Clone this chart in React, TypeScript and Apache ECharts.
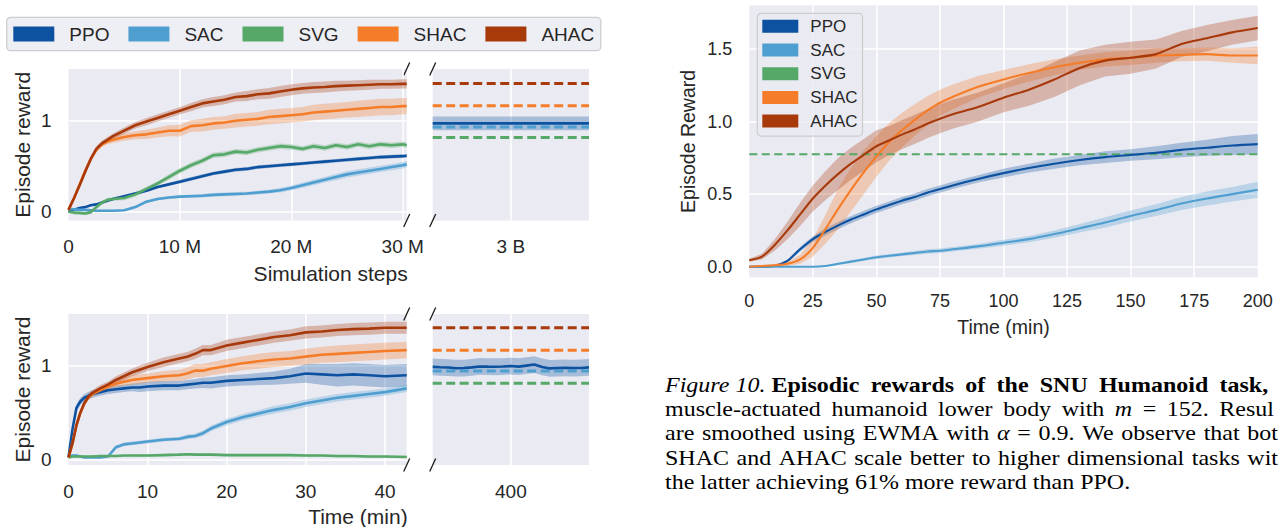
import React, { useEffect, useRef } from "react";
import * as echarts from "echarts";

const W = 1279;
const H = 527;
const SANS = "'Liberation Sans', Arial, sans-serif";
const SERIF = "'Liberation Serif', 'Times New Roman', serif";
const INK = "#262626";
const PANEL = "#eaeaf2";

const METHODS = ["PPO", "SAC", "SVG", "SHAC", "AHAC"];
const COLORS: Record<string, string> = {
  PPO: "#0d52a0",
  SAC: "#4f9ed0",
  SVG: "#55a868",
  SHAC: "#f57c28",
  AHAC: "#a8390a",
};

// ---------- Panel A: reward vs simulation steps (millions) ----------
const STEPS_M = [0, 0.5, 1, 1.5, 2, 2.5, 3, 3.5, 4, 5, 6, 7, 8, 9, 10, 11, 12, 13, 14, 15, 16, 17, 18, 19, 20, 21, 22, 23, 24, 25, 26, 27, 28, 29, 30, 30.36];
const PPO_STEPS = [0.0, 0.02, 0.04, 0.05, 0.07, 0.08, 0.10, 0.12, 0.14, 0.17, 0.20, 0.23, 0.27, 0.30, 0.33, 0.36, 0.39, 0.42, 0.44, 0.46, 0.47, 0.49, 0.50, 0.51, 0.52, 0.53, 0.54, 0.55, 0.56, 0.57, 0.58, 0.59, 0.60, 0.605, 0.61, 0.615];
const PPO_STEPS_SD = [0.005, 0.01, 0.01, 0.01, 0.01, 0.01, 0.01, 0.01, 0.01, 0.015, 0.015, 0.015, 0.015, 0.015, 0.02, 0.02, 0.02, 0.02, 0.02, 0.02, 0.02, 0.02, 0.02, 0.02, 0.02, 0.02, 0.02, 0.02, 0.02, 0.02, 0.02, 0.02, 0.02, 0.02, 0.02, 0.02];
const SAC_STEPS = [0.03, 0.025, 0.02, 0.02, 0.015, 0.01, 0.01, 0.01, 0.01, 0.015, 0.05, 0.11, 0.14, 0.155, 0.165, 0.17, 0.175, 0.185, 0.19, 0.195, 0.2, 0.21, 0.22, 0.235, 0.26, 0.29, 0.32, 0.35, 0.38, 0.41, 0.43, 0.45, 0.47, 0.49, 0.51, 0.52];
const SAC_STEPS_SD = [0.01, 0.01, 0.01, 0.01, 0.01, 0.01, 0.01, 0.01, 0.01, 0.01, 0.015, 0.015, 0.015, 0.015, 0.015, 0.02, 0.02, 0.02, 0.02, 0.02, 0.02, 0.02, 0.02, 0.025, 0.025, 0.03, 0.03, 0.03, 0.035, 0.035, 0.035, 0.035, 0.035, 0.035, 0.035, 0.035];
const SVG_STEPS = [0.0, -0.01, -0.015, -0.02, -0.005, 0.05, 0.1, 0.13, 0.14, 0.15, 0.19, 0.25, 0.31, 0.38, 0.45, 0.51, 0.56, 0.62, 0.63, 0.66, 0.65, 0.68, 0.70, 0.72, 0.71, 0.69, 0.72, 0.70, 0.73, 0.71, 0.74, 0.72, 0.74, 0.73, 0.74, 0.73];
const SVG_STEPS_SD = [0.01, 0.02, 0.02, 0.02, 0.02, 0.02, 0.02, 0.02, 0.02, 0.025, 0.025, 0.025, 0.025, 0.03, 0.03, 0.03, 0.03, 0.03, 0.03, 0.03, 0.03, 0.03, 0.03, 0.03, 0.03, 0.03, 0.03, 0.03, 0.03, 0.03, 0.03, 0.03, 0.03, 0.03, 0.03, 0.03];
const SHAC_STEPS = [0.02, 0.15, 0.30, 0.45, 0.58, 0.68, 0.74, 0.77, 0.79, 0.82, 0.84, 0.85, 0.87, 0.89, 0.89, 0.94, 0.95, 0.97, 0.98, 1.00, 1.01, 1.02, 1.04, 1.05, 1.06, 1.07, 1.09, 1.10, 1.11, 1.12, 1.13, 1.14, 1.15, 1.15, 1.16, 1.16];
const SHAC_STEPS_SD = [0.01, 0.02, 0.02, 0.02, 0.03, 0.03, 0.03, 0.03, 0.035, 0.04, 0.045, 0.05, 0.055, 0.06, 0.065, 0.065, 0.07, 0.07, 0.07, 0.075, 0.075, 0.075, 0.08, 0.08, 0.08, 0.08, 0.085, 0.085, 0.085, 0.085, 0.09, 0.09, 0.09, 0.09, 0.09, 0.09];
const AHAC_STEPS = [0.02, 0.15, 0.29, 0.44, 0.58, 0.69, 0.75, 0.79, 0.83, 0.89, 0.95, 0.99, 1.03, 1.07, 1.11, 1.15, 1.19, 1.21, 1.23, 1.26, 1.27, 1.29, 1.30, 1.32, 1.34, 1.355, 1.365, 1.37, 1.38, 1.385, 1.39, 1.395, 1.40, 1.40, 1.405, 1.405];
const AHAC_STEPS_SD = [0.01, 0.02, 0.02, 0.02, 0.03, 0.03, 0.03, 0.03, 0.03, 0.035, 0.035, 0.04, 0.04, 0.04, 0.04, 0.045, 0.045, 0.05, 0.05, 0.05, 0.055, 0.055, 0.06, 0.06, 0.06, 0.06, 0.06, 0.06, 0.06, 0.055, 0.055, 0.055, 0.05, 0.05, 0.05, 0.05];

// converged values after 3 B steps
const STEPS_B = [2, 4];
const FINAL_3B: Record<string, number> = { AHAC: 1.41, SHAC: 1.165, SAC: 0.93, SVG: 0.815 };
const PPO_3B = [0.97, 0.97];
const PPO_3B_SD = [0.075, 0.075];

// ---------- Panel B: reward vs wall-clock time (minutes) ----------
const TIME_MIN = [0, 0.5, 1, 1.5, 2, 2.5, 3, 4, 5, 6, 7, 8, 9, 10, 12, 14, 15, 16, 17, 18, 20, 22, 24, 26, 28, 30, 32, 34, 36, 38, 40, 42.75];
const PPO_TIME = [0.02, 0.32, 0.55, 0.62, 0.66, 0.68, 0.70, 0.72, 0.74, 0.75, 0.76, 0.77, 0.77, 0.78, 0.79, 0.79, 0.80, 0.81, 0.82, 0.82, 0.84, 0.85, 0.86, 0.87, 0.89, 0.92, 0.91, 0.90, 0.91, 0.90, 0.89, 0.90];
const PPO_TIME_SD = [0.01, 0.03, 0.04, 0.04, 0.04, 0.04, 0.04, 0.04, 0.04, 0.04, 0.04, 0.04, 0.05, 0.05, 0.05, 0.05, 0.05, 0.05, 0.055, 0.06, 0.06, 0.06, 0.065, 0.07, 0.08, 0.1, 0.11, 0.12, 0.12, 0.12, 0.12, 0.12];
const SAC_TIME = [0.03, 0.04, 0.04, 0.03, 0.02, 0.02, 0.02, 0.02, 0.03, 0.13, 0.16, 0.17, 0.18, 0.19, 0.21, 0.22, 0.24, 0.25, 0.28, 0.33, 0.40, 0.45, 0.49, 0.53, 0.56, 0.60, 0.63, 0.66, 0.68, 0.70, 0.72, 0.76];
const SAC_TIME_SD = [0.01, 0.01, 0.01, 0.01, 0.01, 0.01, 0.01, 0.01, 0.01, 0.02, 0.02, 0.02, 0.02, 0.02, 0.02, 0.02, 0.025, 0.025, 0.03, 0.03, 0.035, 0.035, 0.035, 0.04, 0.04, 0.04, 0.04, 0.04, 0.04, 0.04, 0.04, 0.04];
const SVG_TIME = [0.02, 0.03, 0.03, 0.03, 0.03, 0.03, 0.03, 0.035, 0.035, 0.035, 0.04, 0.04, 0.04, 0.04, 0.045, 0.05, 0.055, 0.05, 0.05, 0.05, 0.045, 0.045, 0.045, 0.045, 0.045, 0.04, 0.04, 0.035, 0.035, 0.03, 0.03, 0.025];
const SVG_TIME_SD = [0.005, 0.01, 0.01, 0.01, 0.01, 0.01, 0.01, 0.01, 0.01, 0.01, 0.01, 0.01, 0.012, 0.012, 0.012, 0.012, 0.012, 0.012, 0.012, 0.012, 0.012, 0.012, 0.012, 0.012, 0.012, 0.012, 0.012, 0.012, 0.012, 0.012, 0.012, 0.012];
const SHAC_TIME = [0.02, 0.17, 0.37, 0.50, 0.60, 0.66, 0.70, 0.74, 0.78, 0.81, 0.83, 0.85, 0.86, 0.87, 0.89, 0.90, 0.92, 0.95, 0.95, 0.97, 1.00, 1.03, 1.05, 1.07, 1.08, 1.10, 1.12, 1.13, 1.14, 1.15, 1.16, 1.17];
const SHAC_TIME_SD = [0.01, 0.02, 0.03, 0.03, 0.03, 0.03, 0.03, 0.035, 0.04, 0.04, 0.045, 0.05, 0.05, 0.05, 0.055, 0.06, 0.065, 0.07, 0.07, 0.07, 0.075, 0.075, 0.08, 0.08, 0.08, 0.085, 0.085, 0.09, 0.09, 0.09, 0.09, 0.09];
const AHAC_TIME = [0.02, 0.17, 0.36, 0.50, 0.60, 0.67, 0.71, 0.76, 0.80, 0.85, 0.89, 0.93, 0.96, 0.99, 1.04, 1.08, 1.10, 1.13, 1.17, 1.17, 1.22, 1.25, 1.28, 1.31, 1.33, 1.36, 1.37, 1.385, 1.395, 1.40, 1.41, 1.41];
const AHAC_TIME_SD = [0.01, 0.02, 0.03, 0.03, 0.03, 0.03, 0.03, 0.035, 0.035, 0.04, 0.04, 0.04, 0.045, 0.045, 0.05, 0.05, 0.05, 0.055, 0.055, 0.055, 0.06, 0.06, 0.06, 0.06, 0.06, 0.065, 0.065, 0.065, 0.065, 0.065, 0.065, 0.065];

// converged values after ~400 minutes
const WALL_MIN = [300, 310, 320, 330, 340, 350, 360, 370, 380, 390, 400, 410, 420, 430, 440, 450, 460, 470, 480, 490, 500];
const PPO_WALL = [0.99, 0.986, 0.983, 0.976, 0.978, 0.985, 0.995, 0.993, 0.992, 0.994, 0.999, 0.993, 1.004, 1.015, 0.99, 0.974, 0.978, 0.98, 0.978, 0.979, 0.985];
const PPO_WALL_SD = [0.09, 0.09, 0.09, 0.09, 0.09, 0.09, 0.09, 0.09, 0.09, 0.09, 0.09, 0.09, 0.09, 0.09, 0.09, 0.09, 0.09, 0.09, 0.09, 0.09, 0.09];
const FINAL_400: Record<string, number> = { AHAC: 1.41, SHAC: 1.168, SAC: 0.946, SVG: 0.815 };

// ---------- Panel C: SNU Humanoid, reward vs time (minutes) ----------
const HUM_MIN = [0, 5, 10, 15, 20, 25, 30, 35, 40, 45, 50, 55, 60, 65, 70, 75, 80, 90, 100, 110, 120, 130, 140, 150, 160, 170, 180, 190, 200];
const PPO_HUM = [0.0, 0.0, 0.005, 0.04, 0.12, 0.19, 0.24, 0.285, 0.325, 0.36, 0.395, 0.425, 0.455, 0.48, 0.51, 0.535, 0.56, 0.605, 0.645, 0.68, 0.71, 0.735, 0.755, 0.77, 0.785, 0.805, 0.82, 0.835, 0.845];
const PPO_HUM_SD = [0.003, 0.003, 0.005, 0.01, 0.015, 0.02, 0.025, 0.025, 0.025, 0.025, 0.025, 0.025, 0.025, 0.025, 0.025, 0.025, 0.025, 0.025, 0.03, 0.03, 0.035, 0.035, 0.04, 0.04, 0.045, 0.05, 0.055, 0.065, 0.07];
const SAC_HUM = [0, 0, 0, 0, 0, 0, 0.005, 0.02, 0.035, 0.05, 0.065, 0.075, 0.085, 0.095, 0.105, 0.11, 0.12, 0.14, 0.165, 0.19, 0.225, 0.265, 0.305, 0.35, 0.39, 0.435, 0.47, 0.5, 0.53];
const SAC_HUM_SD = [0.002, 0.002, 0.002, 0.002, 0.002, 0.002, 0.005, 0.008, 0.01, 0.01, 0.012, 0.012, 0.012, 0.014, 0.015, 0.015, 0.015, 0.017, 0.02, 0.022, 0.025, 0.03, 0.035, 0.038, 0.04, 0.045, 0.048, 0.05, 0.055];
const SHAC_HUM = [0.0, 0.005, 0.01, 0.02, 0.05, 0.13, 0.26, 0.40, 0.53, 0.65, 0.76, 0.86, 0.94, 1.01, 1.075, 1.13, 1.17, 1.24, 1.29, 1.335, 1.375, 1.405, 1.43, 1.44, 1.455, 1.46, 1.465, 1.455, 1.455];
const SHAC_HUM_SD = [0.005, 0.005, 0.01, 0.015, 0.03, 0.06, 0.1, 0.14, 0.15, 0.15, 0.14, 0.13, 0.12, 0.11, 0.1, 0.09, 0.085, 0.075, 0.065, 0.06, 0.055, 0.05, 0.05, 0.05, 0.05, 0.045, 0.045, 0.05, 0.06];
const AHAC_HUM = [0.045, 0.07, 0.15, 0.25, 0.36, 0.47, 0.56, 0.64, 0.71, 0.77, 0.83, 0.87, 0.91, 0.945, 0.985, 1.02, 1.05, 1.10, 1.165, 1.22, 1.29, 1.37, 1.42, 1.44, 1.465, 1.535, 1.575, 1.615, 1.645];
const AHAC_HUM_SD = [0.01, 0.02, 0.04, 0.06, 0.08, 0.09, 0.1, 0.11, 0.11, 0.11, 0.11, 0.1, 0.1, 0.1, 0.1, 0.1, 0.1, 0.1, 0.1, 0.11, 0.12, 0.12, 0.11, 0.11, 0.1, 0.09, 0.09, 0.085, 0.085];
const SVG_HUM = 0.775;
const HUM_RANGE = [0, 200];

// ---------- caption ----------
// Each line is justified to the column width; the first gap of the first line keeps a normal space.
type Tok = [string, "n" | "i" | "b"];
const CAPTION_LINES: { justify: boolean; fixedFirstGap?: boolean; words: Tok[] }[] = [
  { justify: true, fixedFirstGap: true, words: [["Figure 10.", "i"], ["Episodic", "b"], ["rewards", "b"], ["of", "b"], ["the", "b"], ["SNU", "b"], ["Humanoid", "b"], ["task,", "b"], ["a", "n"]] },
  { justify: true, words: [["muscle-actuated", "n"], ["humanoid", "n"], ["lower", "n"], ["body", "n"], ["with", "n"], ["m", "i"], ["=", "n"], ["152.", "n"], ["Results", "n"]] },
  { justify: true, words: [["are", "n"], ["smoothed", "n"], ["using", "n"], ["EWMA", "n"], ["with", "n"], ["α", "i"], ["=", "n"], ["0.9.", "n"], ["We", "n"], ["observe", "n"], ["that", "n"], ["both", "n"]] },
  { justify: true, words: [["SHAC", "n"], ["and", "n"], ["AHAC", "n"], ["scale", "n"], ["better", "n"], ["to", "n"], ["higher", "n"], ["dimensional", "n"], ["tasks", "n"], ["with", "n"]] },
  { justify: false, words: [["the", "n"], ["latter", "n"], ["achieving", "n"], ["61%", "n"], ["more", "n"], ["reward", "n"], ["than", "n"], ["PPO.", "n"]] },
];

// ---------- layout ----------
const MAIN_L = 68.5;
const MAIN_W = 338.2;
const BRK_L = 432.7;
const BRK_W = 156.3;
const TOP_A = 69;
const H_A = 151.5;
const TOP_B = 314;
const H_B = 151;
const CAP_LEFT = 665;
const CAP_RIGHT = 1290;
const CAP_TOP = 385;
const CAP_LEAD = 24.2;
const CAP_SIZE = 24;
const CAP_SQUASH = 0.88;
const LINE_W = 2.6;

const gridBox = (left: number, top: number, width: number, height: number) => ({
  left, top, width, height, show: true, backgroundColor: PANEL, borderWidth: 0, outerBoundsMode: "none",
});

const whiteSplit = { show: true, showMinLine: false, showMaxLine: false, lineStyle: { color: "#ffffff", width: 1.5 } };

function xAxisDef(gi: number, min: number, max: number, interval: number, formatter: (v: number) => string, fontSize: number, margin: number, extra: any = {}, showMax = false) {
  return {
    type: "value", gridIndex: gi, min, max, interval,
    axisLine: { show: false }, axisTick: { show: false }, splitLine: whiteSplit,
    axisLabel: { formatter, fontSize, margin, color: INK, fontFamily: SANS, showMaxLabel: showMax },
    ...extra,
  };
}

function yAxisDef(gi: number, min: number, max: number, step: number, visible: boolean, formatter: (v: number) => string, fontSize: number, extra: any = {}) {
  return {
    type: "value", gridIndex: gi, min, max, minInterval: step, maxInterval: step, show: visible,
    axisLine: { show: false }, axisTick: { show: false }, splitLine: whiteSplit,
    axisLabel: { formatter, fontSize, margin: 17, color: INK, fontFamily: SANS, showMinLabel: false, showMaxLabel: false },
    ...extra,
  };
}

const onStep = (v: number, step: number) => Math.abs(v / step - Math.round(v / step)) < 1e-6;

function line(name: string, ai: number, xs: number[], ys: number[], color: string, width: number, extra: any = {}) {
  return {
    type: "line", name, xAxisIndex: ai, yAxisIndex: ai, silent: true, z: 3,
    data: xs.map((x, i) => [x, ys[i]]),
    symbol: "none", showSymbol: false,
    lineStyle: { color, width }, itemStyle: { color },
    emphasis: { disabled: true },
    ...extra,
  };
}

function band(ai: number, xs: number[], ys: number[], sd: number[], color: string, opacity: number) {
  const rows = xs.map((x, i) => [x, ys[i] - sd[i], ys[i] + sd[i]]);
  return {
    type: "custom", xAxisIndex: ai, yAxisIndex: ai, silent: true, z: 1, clip: true,
    data: rows, encode: { x: 0, y: [1, 2] },
    renderItem: (params: any, api: any) => {
      if (params.dataIndex !== 0) return null;
      const upper = rows.map((r) => api.coord([r[0], r[2]]));
      const lower = rows.map((r) => api.coord([r[0], r[1]])).reverse();
      return { type: "polygon", shape: { points: upper.concat(lower) }, style: { fill: color, opacity } };
    },
  };
}

function dashed(ai: number, xs: number[], v: number, color: string, width: number, dash: number[]) {
  return line(`${color}-final`, ai, xs, [v, v], color, width, { lineStyle: { color, width, type: dash } });
}

function captionElements() {
  const ctx = document.createElement("canvas").getContext("2d") as CanvasRenderingContext2D;
  const fontFor = (s: string) => `${s === "i" ? "italic " : ""}${s === "b" ? "bold " : ""}${CAP_SIZE}px ${SERIF}`;
  const widthOf = (t: string, s: string) => {
    ctx.font = fontFor(s);
    return ctx.measureText(t).width;
  };
  const space = widthOf(" ", "n");
  const out: any[] = [];
  CAPTION_LINES.forEach((ln, li) => {
    const widths = ln.words.map(([t, s]) => widthOf(t, s));
    const total = widths.reduce((a, b) => a + b, 0);
    const n = ln.words.length;
    let gaps: number[];
    if (!ln.justify) {
      gaps = new Array(n - 1).fill(space);
    } else if (ln.fixedFirstGap) {
      const g = (CAP_RIGHT - CAP_LEFT - total - space) / (n - 2);
      gaps = [space, ...new Array(n - 2).fill(g)];
    } else {
      gaps = new Array(n - 1).fill((CAP_RIGHT - CAP_LEFT - total) / (n - 1));
    }
    let x = CAP_LEFT;
    ln.words.forEach(([t, s], wi) => {
      // the column runs past the page edge: only the part of a word that lies on the page is drawn
      let shown = t;
      while (shown.length > 0 && x + widthOf(shown, s) > W - 1) shown = shown.slice(0, -1);
      if (shown.length > 0) {
        out.push({
          type: "text", x, y: CAP_TOP + li * CAP_LEAD, scaleY: CAP_SQUASH, silent: true,
          style: {
            text: shown, fill: "#000", fontSize: CAP_SIZE, fontFamily: SERIF,
            fontStyle: s === "i" ? "italic" : "normal", fontWeight: s === "b" ? "bold" : "normal",
            align: "left", verticalAlign: "middle", textAlign: "left", textVerticalAlign: "middle",
          },
        });
      }
      x += widths[wi] + (gaps[wi] ?? 0);
    });
  });
  return out;
}

function breakMarks() {
  const xs = [MAIN_L + MAIN_W, BRK_L];
  const ys = [TOP_A, TOP_A + H_A, TOP_B, TOP_B + H_B];
  const out: any[] = [];
  ys.forEach((y) =>
    xs.forEach((x) =>
      out.push({
        type: "line", silent: true,
        shape: { x1: x - 3, y1: y + 6.5, x2: x + 3, y2: y - 6.5 },
        style: { stroke: "#1a1a1a", lineWidth: 1.3 },
      })
    )
  );
  return out;
}

function buildOption() {
  const series: any[] = [];

  // Panel A
  const stepsY: Record<string, number[][]> = {
    PPO: [PPO_STEPS, PPO_STEPS_SD], SAC: [SAC_STEPS, SAC_STEPS_SD], SVG: [SVG_STEPS, SVG_STEPS_SD],
    SHAC: [SHAC_STEPS, SHAC_STEPS_SD], AHAC: [AHAC_STEPS, AHAC_STEPS_SD],
  };
  METHODS.forEach((m) => series.push(band(0, STEPS_M, stepsY[m][0], stepsY[m][1], COLORS[m], 0.3)));
  METHODS.forEach((m) => series.push(line(m, 0, STEPS_M, stepsY[m][0], COLORS[m], LINE_W)));
  series.push(band(1, STEPS_B, PPO_3B, PPO_3B_SD, COLORS.PPO, 0.3));
  series.push(line("PPO-3B", 1, STEPS_B, PPO_3B, COLORS.PPO, 2.8));
  ["AHAC", "SHAC", "SVG", "SAC"].forEach((m) => series.push(dashed(1, STEPS_B, FINAL_3B[m], COLORS[m], 3, [9, 4.5])));

  // Panel B
  const timeY: Record<string, number[][]> = {
    PPO: [PPO_TIME, PPO_TIME_SD], SAC: [SAC_TIME, SAC_TIME_SD], SVG: [SVG_TIME, SVG_TIME_SD],
    SHAC: [SHAC_TIME, SHAC_TIME_SD], AHAC: [AHAC_TIME, AHAC_TIME_SD],
  };
  METHODS.forEach((m) => series.push(band(2, TIME_MIN, timeY[m][0], timeY[m][1], COLORS[m], 0.3)));
  METHODS.forEach((m) => series.push(line(m, 2, TIME_MIN, timeY[m][0], COLORS[m], LINE_W)));
  series.push(band(3, WALL_MIN, PPO_WALL, PPO_WALL_SD, COLORS.PPO, 0.3));
  ["AHAC", "SHAC", "SVG", "SAC"].forEach((m) =>
    series.push(dashed(3, [WALL_MIN[0], WALL_MIN[WALL_MIN.length - 1]], FINAL_400[m], COLORS[m], 3, [9, 4.5]))
  );
  series.push(line("PPO-400", 3, WALL_MIN, PPO_WALL, COLORS.PPO, LINE_W));

  // Panel C
  const humY: Record<string, number[][]> = {
    PPO: [PPO_HUM, PPO_HUM_SD], SAC: [SAC_HUM, SAC_HUM_SD], SHAC: [SHAC_HUM, SHAC_HUM_SD], AHAC: [AHAC_HUM, AHAC_HUM_SD],
  };
  ["PPO", "SAC", "SHAC", "AHAC"].forEach((m) => series.push(band(4, HUM_MIN, humY[m][0], humY[m][1], COLORS[m], 0.3)));
  series.push(line("SVG", 4, HUM_RANGE, [SVG_HUM, SVG_HUM], COLORS.SVG, 2, { lineStyle: { color: COLORS.SVG, width: 2, type: [8, 4.5] } }));
  ["PPO", "SAC", "SHAC", "AHAC"].forEach((m) =>
    series.push(line(m, 4, HUM_MIN, humY[m][0], COLORS[m], 2.1, { smooth: 0.25 }))
  );

  const nameStyle = (size: number) => ({ fontSize: size, color: INK, fontFamily: SANS });

  return {
    animation: false,
    backgroundColor: "#ffffff",
    textStyle: { fontFamily: SANS },
    grid: [
      gridBox(MAIN_L, TOP_A, MAIN_W, H_A),
      gridBox(BRK_L, TOP_A, BRK_W, H_A),
      gridBox(MAIN_L, TOP_B, MAIN_W, H_B),
      gridBox(BRK_L, TOP_B, BRK_W, H_B),
      gridBox(749.3, 5.5, 508.4, 271.8),
    ],
    xAxis: [
      xAxisDef(0, 0, 30.36, 10, (v) => (onStep(v, 10) ? (v === 0 ? "0" : `${Math.round(v)} M`) : ""), 19, 16.5),
      xAxisDef(1, STEPS_B[0], STEPS_B[1], 1, (v) => (v === 3 ? "3 B" : ""), 19, 16.5),
      xAxisDef(2, 0, 42.75, 10, (v) => (onStep(v, 10) ? String(Math.round(v)) : ""), 19, 17),
      xAxisDef(3, WALL_MIN[0], WALL_MIN[WALL_MIN.length - 1], 100, (v) => (v === 400 ? "400" : ""), 19, 17),
      xAxisDef(4, HUM_RANGE[0], HUM_RANGE[1], 25, (v) => String(Math.round(v)), 18, 15, {
        name: "Time (min)", nameLocation: "middle", nameGap: 40, nameTextStyle: nameStyle(19.5),
      }, true),
    ],
    yAxis: [
      yAxisDef(0, -0.097, 1.568, 1, true, (v) => (onStep(v, 1) ? String(Math.round(v)) : ""), 19, {
        name: "Episode reward", nameLocation: "middle", nameGap: 36, nameTextStyle: nameStyle(21),
      }),
      yAxisDef(1, -0.097, 1.568, 1, false, () => "", 19),
      yAxisDef(2, -0.061, 1.557, 1, true, (v) => (onStep(v, 1) ? String(Math.round(v)) : ""), 19, {
        name: "Episode reward", nameLocation: "middle", nameGap: 36, nameTextStyle: nameStyle(21),
      }),
      yAxisDef(3, -0.061, 1.557, 1, false, () => "", 19),
      yAxisDef(4, -0.073, 1.8, 0.5, true, (v) => (onStep(v, 0.5) ? v.toFixed(1) : ""), 18, {
        name: "Episode Reward", nameLocation: "middle", nameGap: 51, nameTextStyle: nameStyle(19.5),
      }),
    ],
    legend: [
      {
        data: METHODS, left: 6.7, top: 17.3, orient: "horizontal", icon: "rect",
        itemWidth: 41, itemHeight: 15, itemGap: 19, selectedMode: false,
        padding: [7.2, 6.6],
        backgroundColor: "#eeeef5", borderColor: "#cccccc", borderWidth: 1.2, borderRadius: 4,
        textStyle: { fontSize: 19, color: INK, fontFamily: SANS, padding: [0, 0, 0, 10] },
      },
      {
        data: METHODS, left: 757.3, top: 13.3, orient: "vertical", icon: "rect",
        itemWidth: 36, itemHeight: 13, itemGap: 6.7, selectedMode: false,
        padding: [4.5, 5, 6.5, 5],
        backgroundColor: "rgba(234,234,242,0.8)", borderColor: "#cccccc", borderWidth: 1.2, borderRadius: 4,
        textStyle: { fontSize: 17, color: INK, fontFamily: SANS, padding: [0, 0, 0, 7] },
      },
    ],
    series,
    graphic: {
      elements: [
        ...breakMarks(),
        {
          type: "text", x: MAIN_L + MAIN_W + 1, y: 273, silent: true,
          style: { text: "Simulation steps", fill: INK, fontSize: 21, fontFamily: SANS, align: "right", verticalAlign: "middle", textAlign: "right", textVerticalAlign: "middle" },
        },
        {
          type: "text", x: MAIN_L + MAIN_W + 1, y: 516.7, silent: true,
          style: { text: "Time (min)", fill: INK, fontSize: 21, fontFamily: SANS, align: "right", verticalAlign: "middle", textAlign: "right", textVerticalAlign: "middle" },
        },
        ...captionElements(),
      ],
    },
  };
}

export default function App() {
  const ref = useRef<HTMLDivElement>(null);
  useEffect(() => {
    const chart = echarts.init(ref.current as HTMLDivElement, null, { renderer: "svg", width: W, height: H });
    chart.setOption(buildOption() as any);
    return () => chart.dispose();
  }, []);
  return (
    <div
      ref={ref}
      style={{ position: "absolute", left: 0, top: 0, width: W, height: H, background: "#ffffff", overflow: "hidden" }}
    />
  );
}
